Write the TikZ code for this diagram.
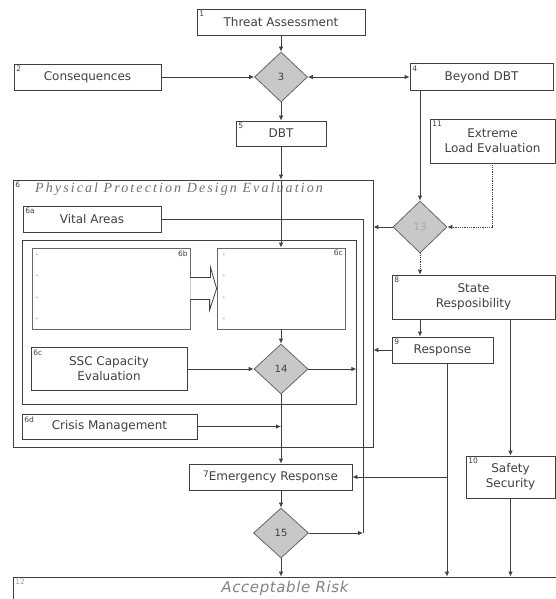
\documentclass[tikz,border=0pt]{standalone}
\usepackage{fontspec}
\setmainfont{DejaVu Sans}
\newfontfamily\titrefont[LetterSpace=15]{Liberation Serif}
\usetikzlibrary{shapes.geometric,arrows.meta}
\definecolor{trait}{HTML}{404040}
\definecolor{gris}{HTML}{C8C8C8}

\begin{document}
\begin{tikzpicture}[x=1pt,y=-1pt]
\tikzset{boite/.style={draw=trait, line width=0.8pt, inner sep=0pt, align=center, text=trait, font=\fontsize{12}{15}\selectfont}}
\tikzset{losange/.style={diamond, draw=trait!80, fill=gris, line width=0.8pt, inner sep=0pt, text=trait, font=\fontsize{10}{12}\selectfont}}
\tikzset{num/.style={inner sep=2.5pt, text=trait, font=\fontsize{7.5}{8}\selectfont}}
\tikzset{fleche/.style={draw=trait, line width=0.8pt, -{Latex[length=5pt,width=4.5pt]}}}
\tikzset{ligne/.style={draw=trait, line width=0.8pt}}
\tikzset{puce/.style={inner sep=0pt, text=gris, font=\fontsize{7}{8}\selectfont}}
\useasboundingbox (0,0) rectangle (556,599);
\clip (0,0) rectangle (556,599);
% top of the chart
\node[boite, minimum width=168pt, minimum height=26pt, label={[num,anchor=north west]north west:1}] (n1) at (281,22) {Threat Assessment};
\node[boite, minimum width=147pt, minimum height=26pt, label={[num,anchor=north west]north west:2}] (n2) at (87.5,77) {Consequences};
\node[losange, minimum width=53pt, minimum height=50pt] (d3) at (281,77) {3};
\node[boite, minimum width=143pt, minimum height=27pt, label={[num,anchor=north west]north west:4}] (n4) at (481.5,77) {Beyond DBT};
\node[boite, minimum width=90pt, minimum height=25pt, label={[num,anchor=north west]north west:5}] (n5) at (281,133.5) {DBT};
\node[boite, minimum width=125pt, minimum height=44pt, label={[num,anchor=north west]north west:11}] (n11) at (492.5,141) {Extreme\\Load Evaluation};
% block 6
\node[boite, minimum width=360pt, minimum height=267pt, label={[num,anchor=north west]north west:6}] (n6) at (193,313.5) {};
\node[anchor=west, inner sep=0pt, text=trait!75, font=\titrefont\itshape\fontsize{14}{16}\selectfont] (t6) at (35,189) {Physical Protection Design Evaluation};
\node[boite, minimum width=334pt, minimum height=164pt] (zone) at (189,322) {};
\node[boite, minimum width=138pt, minimum height=26pt, label={[num,anchor=north west]north west:6a}] (n6a) at (92,219) {Vital Areas};
\node[boite, draw=trait!80, minimum width=158pt, minimum height=81pt, label={[num,anchor=north east]north east:6b}] (n6b) at (111,288.5) {};
\node[boite, draw=trait!80, minimum width=128pt, minimum height=81pt, label={[num,anchor=north east]north east:6c}] (n6c) at (281,288.5) {};
\foreach \y in {256,277,299,320} {
  \node[puce] (pb\y) at (37,\y) {•};
  \node[puce] (pc\y) at (224,\y) {•};
}
\draw[ligne, fill=white] ([yshift=11pt]n6b.east) -- ++(20,0) -- ++(0,-10.5) -- (n6c.west) -- ++(-7,21.5) -- ++(0,-10.5) -- ([yshift=-11pt]n6b.east);
\node[boite, minimum width=156pt, minimum height=43pt, label={[num,anchor=north west]north west:6c}] (n6e) at (109,369) {SSC Capacity\\Evaluation};
\node[losange, minimum width=54pt, minimum height=50pt] (d14) at (281,369) {14};
\node[boite, minimum width=175pt, minimum height=25pt, label={[num,anchor=north west]north west:6d}] (n6d) at (109.5,426.5) {Crisis Management};
% lower part
\node[boite, minimum width=163pt, minimum height=26pt] (n7) at (270.5,477) {\raisebox{3pt}{\fontsize{9}{9}\selectfont 7}Emergency Response};
\node[losange, minimum width=55pt, minimum height=50pt] (d15) at (281,533) {15};
\node[losange, minimum width=54pt, minimum height=52pt, text=trait!45] (d13) at (420,227) {13};
\node[boite, minimum width=163pt, minimum height=44pt, label={[num,anchor=north west]north west:8}] (n8) at (473.5,297) {State\\Resposibility};
\node[boite, minimum width=101pt, minimum height=26pt, label={[num,anchor=north west]north west:9}] (n9) at (442.5,350) {Response};
\node[boite, minimum width=89pt, minimum height=42pt, label={[num,anchor=north west]north west:10}] (n10) at (510.5,477) {Safety\\Security};
\node[boite, minimum width=557pt, minimum height=44pt, label={[num,anchor=north west,text=trait!50]north west:12}] (n12) at (291.5,599) {};
\node[text=trait!65, inner sep=0pt, font=\addfontfeature{LetterSpace=4}\itshape\fontsize{15}{17}\selectfont] (t12) at (285,588) {Acceptable Risk};
\coordinate (r9) at (447,363);
\coordinate (v6) at (363,533);
% connectors
\draw[fleche] (n1.south) -- (n1.south |- d3.north);
\draw[fleche] (n2.east) -- (d3.west);
\draw[fleche, {Latex[length=5pt,width=4.5pt]}-{Latex[length=5pt,width=4.5pt]}] (d3.east) -- (n4.west);
\draw[fleche] (d3.south) -- (n5.north);
\draw[fleche] (n5.south) -- (n5.south |- n6.north);
\draw[fleche] (n5.south |- n6.north) -- (n6c.north);
\draw[fleche] (n4.south -| d13.north) -- (d13.north);
\draw[fleche, densely dotted] (n11.south) |- (d13.east);
\draw[fleche] (d13.west) -- (d13.west -| n6.east);
\draw[fleche, densely dotted] (d13.south) -- (d13.south |- n8.north);
\draw[fleche] (n8.south -| d13.south) -- (n9.north -| d13.south);
\draw[fleche] (n9.west) -- (n9.west -| n6.east);
\draw[fleche] (n8.south -| n10.north) -- (n10.north);
\draw[fleche] (n10.south) -- (n10.south |- n12.north);
\draw[fleche] (r9) -- (r9 |- n12.north);
\draw[fleche] (r9 |- n7.east) -- (n7.east);
\draw[fleche] (n6c.south) -- (d14.north);
\draw[fleche] (n6e.east) -- (d14.west);
\draw[fleche] (d14.east) -- (d14.east -| zone.east);
\draw[fleche] (d14.south) -- (d14.south |- n7.north);
\draw[fleche] (n6d.east) -- (n6d.east -| d14.south);
\draw[fleche] (d14.south |- n7.south) -- (d15.north);
\draw[fleche] (d15.south) -- (d15.south |- n12.north);
\draw[fleche] (d15.east) -- (v6);
\draw[ligne] (v6) -- (v6 |- n6a.east) -- (n6a.east);
\end{tikzpicture}
\end{document}
